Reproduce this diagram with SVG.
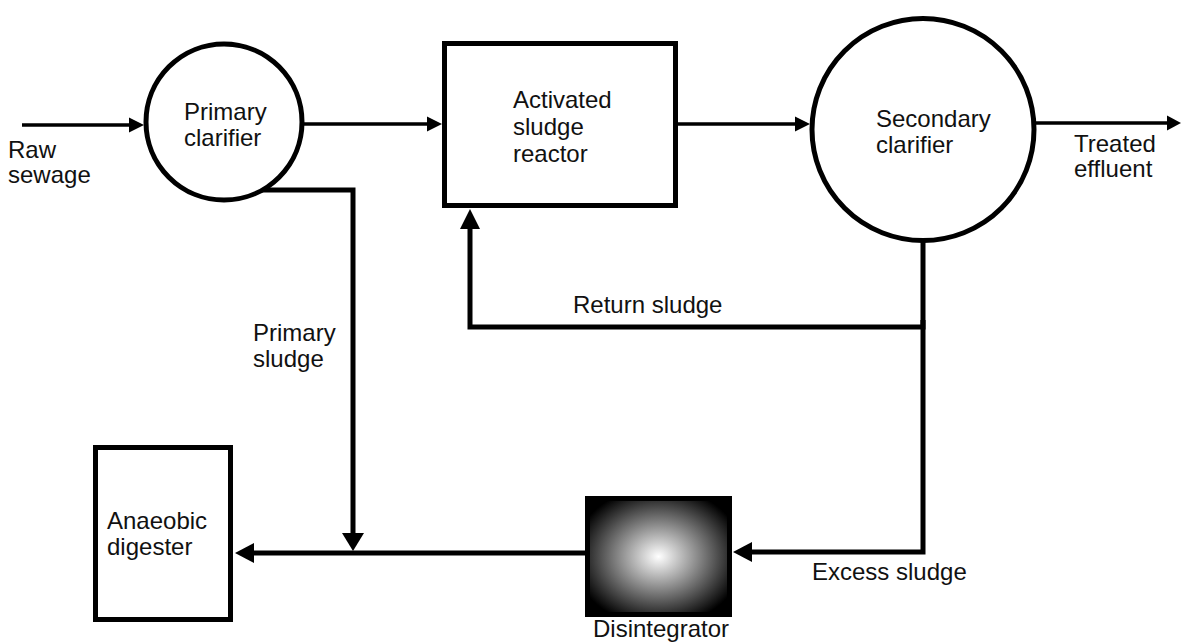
<svg xmlns="http://www.w3.org/2000/svg" width="1181" height="642" viewBox="0 0 1181 642">
<style>
text{font-family:"Liberation Sans",Arial,sans-serif;font-size:24px;fill:#111}
.node{fill:#fff;stroke:#000;stroke-width:5}
.thin{fill:none;stroke:#000;stroke-width:3.5}
.thick{fill:none;stroke:#000;stroke-width:5}
.head{fill:#000}
</style>
<defs>
<radialGradient id="g" cx="0.5" cy="0.5" r="0.6">
<stop offset="0" stop-color="#fff"/>
<stop offset="0.4" stop-color="#999"/>
<stop offset="1" stop-color="#000"/>
</radialGradient>
</defs>
<rect width="1181" height="642" fill="#fff"/>
<g id="connectors">
<line class="thin" x1="22" y1="125" x2="132" y2="125"/>
<polygon class="head" points="144,125 129,117.5 129,132.5"/>
<line class="thin" x1="302" y1="124" x2="430" y2="124"/>
<polygon class="head" points="442,124 427,116.5 427,131.5"/>
<line class="thin" x1="678" y1="124" x2="796" y2="124"/>
<polygon class="head" points="810,124 795,116.5 795,131.5"/>
<line class="thin" x1="1036" y1="123" x2="1170" y2="123"/>
<polygon class="head" points="1181,123 1167,115.5 1167,130.5"/>
<polyline class="thick" points="262,190 353,190 353,536"/>
<polygon class="head" points="353,551 342,533 364,533"/>
<line class="thick" x1="585" y1="553" x2="250" y2="553"/>
<polygon class="head" points="235,553 254,543 254,563"/>
<polyline class="thick" points="923,242 923,327 470,327 470,226"/>
<polygon class="head" points="470,209 460,229 480,229"/>
<polyline class="thick" points="923,320 923,552 748,552"/>
<polygon class="head" points="733,552 752,542 752,562"/>
</g>
<g id="primary-clarifier">
<circle class="node" cx="224" cy="122" r="78" stroke-width="5.5"/>
<text x="184" y="120">Primary</text>
<text x="184" y="146">clarifier</text>
</g>
<g id="activated-sludge-reactor">
<rect class="node" x="444.5" y="43.5" width="231" height="162"/>
<text x="513" y="108">Activated</text>
<text x="513" y="135">sludge</text>
<text x="513" y="162">reactor</text>
</g>
<g id="secondary-clarifier">
<circle class="node" cx="923" cy="129.5" r="111"/>
<text x="876" y="127">Secondary</text>
<text x="876" y="153">clarifier</text>
</g>
<g id="anaerobic-digester">
<rect class="node" x="95.5" y="447.5" width="135" height="172"/>
<text x="107" y="529">Anaeobic</text>
<text x="107" y="555">digester</text>
</g>
<g id="disintegrator">
<rect x="587.5" y="498.5" width="142" height="116" fill="url(#g)" stroke="#000" stroke-width="5"/>
<text x="593" y="637">Disintegrator</text>
</g>
<g id="labels">
<text x="8" y="158">Raw</text>
<text x="8" y="183">sewage</text>
<text x="1074" y="152">Treated</text>
<text x="1074" y="177">effluent</text>
<text x="253" y="341">Primary</text>
<text x="253" y="367">sludge</text>
<text x="573" y="313">Return sludge</text>
<text x="812" y="580">Excess sludge</text>
</g>
</svg>
